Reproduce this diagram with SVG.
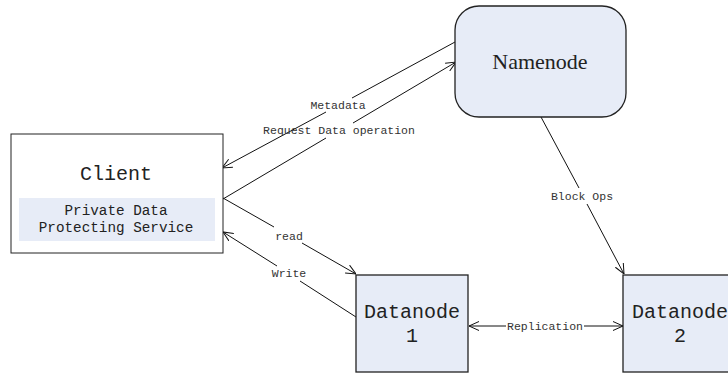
<svg xmlns="http://www.w3.org/2000/svg" width="728" height="374" viewBox="0 0 728 374">
<style>
.box{fill:#E7ECF7;stroke:#222;stroke-width:1.3}
.plain{fill:#fff;stroke:#222;stroke-width:1}
.mono{font-family:"Liberation Mono","DejaVu Sans Mono",monospace;fill:#222;text-anchor:middle}
.lbl{font-family:"Liberation Mono","DejaVu Sans Mono",monospace;font-size:11.5px;fill:#333;text-anchor:middle}
.ser{font-family:"Liberation Serif","Times New Roman",serif;fill:#222;text-anchor:middle}
.ln{stroke:#111;stroke-width:1;fill:none}
</style>
<defs>
<marker id="arr" viewBox="0 0 10 10" refX="10" refY="5" markerWidth="10" markerHeight="10" markerUnits="userSpaceOnUse" orient="auto-start-reverse">
<path d="M0,0.5 L10,5 L0,9.5" fill="none" stroke="#111" stroke-width="1"/>
</marker>
</defs>
<rect width="728" height="374" fill="#fff"/>
<g id="connectors">
<!-- Metadata: Namenode -> Client -->
<line class="ln" x1="455" y1="42" x2="352" y2="98"/>
<line class="ln" x1="326" y1="112" x2="222" y2="168" marker-end="url(#arr)"/>
<!-- Request Data operation: Client -> Namenode -->
<line class="ln" x1="223" y1="199" x2="326" y2="138"/>
<line class="ln" x1="353" y1="123" x2="456" y2="62" marker-end="url(#arr)"/>
<!-- read: Client -> Datanode1 -->
<line class="ln" x1="223" y1="198" x2="274" y2="227"/>
<line class="ln" x1="302" y1="243" x2="356" y2="274" marker-end="url(#arr)"/>
<!-- Write: Datanode1 -> Client -->
<line class="ln" x1="356" y1="317" x2="300" y2="281"/>
<line class="ln" x1="277" y1="266" x2="223" y2="232" marker-end="url(#arr)"/>
<!-- Replication -->
<line class="ln" x1="469" y1="326" x2="506" y2="326" marker-start="url(#arr)"/>
<line class="ln" x1="584" y1="326" x2="623" y2="326" marker-end="url(#arr)"/>
<!-- Block Ops -->
<line class="ln" x1="541" y1="117" x2="579" y2="188"/>
<line class="ln" x1="587" y1="204" x2="624" y2="274" marker-end="url(#arr)"/>
<text class="lbl" x="338" y="109">Metadata</text>
<text class="lbl" x="339" y="134">Request Data operation</text>
<text class="lbl" x="289" y="240">read</text>
<text class="lbl" x="289" y="277">Write</text>
<text class="lbl" x="545" y="330">Replication</text>
<text class="lbl" x="582" y="200">Block Ops</text>
</g>
<g id="namenode">
<rect class="box" x="455" y="6" width="171" height="111" rx="24" ry="24"/>
<text class="ser" x="540" y="69" font-size="22">Namenode</text>
</g>
<g id="client">
<rect class="plain" x="11" y="134" width="212" height="119"/>
<text class="mono" x="116" y="180" font-size="20">Client</text>
<rect x="19" y="198" width="196" height="43" fill="#E7ECF7"/>
<text class="mono" x="116" y="215" font-size="14.3">Private Data</text>
<text class="mono" x="116" y="232" font-size="14.3">Protecting Service</text>
</g>
<g id="datanode1">
<rect class="box" x="356" y="275" width="112" height="97"/>
<text class="mono" x="412" y="318" font-size="20">Datanode</text>
<text class="mono" x="412" y="342" font-size="20">1</text>
</g>
<g id="datanode2">
<rect class="box" x="623" y="275" width="114" height="97"/>
<text class="mono" x="680" y="318" font-size="20">Datanode</text>
<text class="mono" x="680" y="342" font-size="20">2</text>
</g>
</svg>
